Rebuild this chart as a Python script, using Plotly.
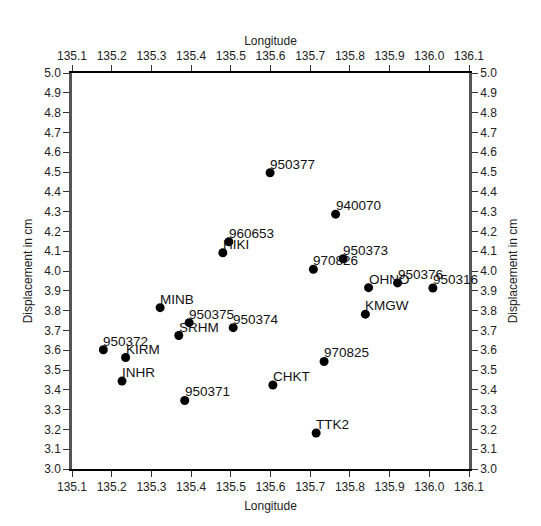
import plotly.graph_objects as go

stations = ["950377", "960653", "HIKI", "MINB", "940070", "950373", "970826",
            "OHNO", "950376", "950316", "KMGW", "950375", "950374", "SRHM",
            "950372", "KIRM", "INHR", "950371", "CHKT", "970825", "TTK2"]
longitude = [135.599, 135.495, 135.480, 135.322, 135.764, 135.783, 135.708,
             135.847, 135.920, 136.009, 135.839, 135.395, 135.506, 135.369,
             135.179, 135.235, 135.226, 135.384, 135.606, 135.735, 135.715]
displacement = [4.496, 4.148, 4.092, 3.815, 4.287, 4.062, 4.009,
                3.916, 3.940, 3.914, 3.782, 3.739, 3.714, 3.674,
                3.602, 3.563, 3.444, 3.346, 3.424, 3.543, 3.182]

x_ticks = [135.1, 135.2, 135.3, 135.4, 135.5, 135.6, 135.7, 135.8, 135.9, 136.0, 136.1]
y_ticks = [3.0, 3.1, 3.2, 3.3, 3.4, 3.5, 3.6, 3.7, 3.8, 3.9, 4.0, 4.1, 4.2, 4.3, 4.4, 4.5, 4.6, 4.7, 4.8, 4.9, 5.0]

FONT = "Liberation Sans, Arial, sans-serif"
tick_font = dict(family=FONT, size=12, color="#222")
title_font = dict(family=FONT, size=12, color="#222")

fig = go.Figure()
fig.add_trace(go.Scatter(
    x=longitude, y=displacement, mode="markers",
    marker=dict(color="black", size=9),
    showlegend=False, hoverinfo="skip", cliponaxis=False,
))
fig.add_trace(go.Scatter(
    x=[x_ticks[0], x_ticks[-1]], y=[y_ticks[0], y_ticks[-1]], mode="markers",
    marker=dict(opacity=0), xaxis="x2", yaxis="y2", showlegend=False, hoverinfo="skip",
))

for name, lon, disp in zip(stations, longitude, displacement):
    fig.add_annotation(x=lon, y=disp, text=name, showarrow=False,
                       xanchor="left", yanchor="bottom", xshift=-2, yshift=-1,
                       font=dict(family=FONT, size=13.5, color="#111"))

xcommon = dict(range=[135.1, 136.1], tickvals=x_ticks,
               ticktext=[f"{v:.1f}" for v in x_ticks],
               ticks="outside", ticklen=6, tickcolor="#333", tickwidth=1,
               showline=True, linecolor="black", linewidth=1.5,
               showgrid=False, zeroline=False, tickfont=tick_font, automargin=False)
ycommon = dict(range=[3.0, 5.0], tickvals=y_ticks,
               ticktext=[f"{v:.1f}" for v in y_ticks],
               ticks="outside", ticklen=6, tickcolor="#333", tickwidth=1,
               showline=True, linecolor="#555", linewidth=2.5,
               showgrid=False, zeroline=False, tickfont=tick_font, automargin=False)

fig.update_layout(
    width=541, height=526,
    margin=dict(l=64, r=80, t=65, b=65),
    paper_bgcolor="white", plot_bgcolor="white",
    xaxis=dict(**xcommon, side="bottom",
               title=dict(text="Longitude", font=title_font, standoff=8)),
    yaxis=dict(**ycommon, side="left",
               title=dict(text="Displacement in cm", font=title_font, standoff=9)),
    xaxis2=dict(**xcommon, side="top", overlaying="x", anchor="y",
                title=dict(text="Longitude", font=title_font, standoff=1)),
    yaxis2=dict(**ycommon, side="right", overlaying="y", anchor="x",
                title=dict(text="Displacement in cm", font=title_font, standoff=13)),
)

fig.write_html("out.html")
